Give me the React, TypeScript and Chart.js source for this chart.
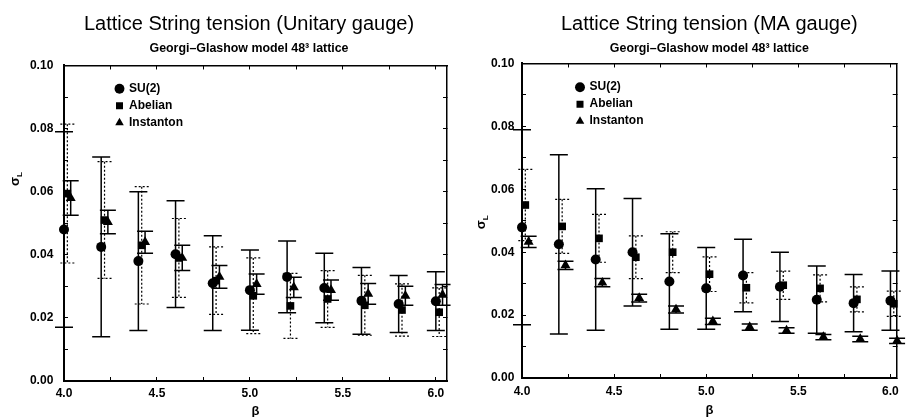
import React, { useEffect, useRef } from "react";
import { Chart, registerables } from "chart.js";

Chart.register(...registerables);

const FONT = '"Liberation Sans", Arial, Helvetica, sans-serif';

// ---------------- data ----------------
const betas = [4.0, 4.2, 4.4, 4.6, 4.8, 5.0, 5.2, 5.4, 5.6, 5.8, 6.0];
const abelianShift = 0.018;
const instantonShift = 0.036;

const seriesNames = ["SU(2)", "Abelian", "Instanton"];
const xTickLabels = ["4.0", "4.5", "5.0", "5.5", "6.0"];
const yTickLabels = ["0.00", "0.02", "0.04", "0.06", "0.08", "0.10"];

// Unitary gauge
const su2Unitary = [0.048, 0.0425, 0.038, 0.0402, 0.031, 0.0288, 0.033, 0.0295, 0.0254, 0.0244, 0.0253];
const su2UnitaryErr = [0.031, 0.0285, 0.022, 0.0169, 0.015, 0.0127, 0.0114, 0.011, 0.0106, 0.009, 0.0093];
const abelianUnitary = [0.0594, 0.051, 0.043, 0.039, 0.0318, 0.027, 0.0238, 0.026, 0.024, 0.0225, 0.0218];
const abelianUnitaryErr = [0.022, 0.0185, 0.0186, 0.0125, 0.0107, 0.012, 0.0103, 0.009, 0.0095, 0.0083, 0.0077];
const instantonUnitary = [0.058, 0.0504, 0.044, 0.039, 0.033, 0.0307, 0.0297, 0.0288, 0.0276, 0.027, 0.0273];
const instantonUnitaryErr = [0.0055, 0.0037, 0.0035, 0.004, 0.0036, 0.0032, 0.0032, 0.0032, 0.0033, 0.003, 0.0033];

// MA gauge
const su2MA = [0.0479, 0.0425, 0.0377, 0.04, 0.0307, 0.0285, 0.0326, 0.029, 0.0249, 0.0238, 0.0246];
const su2MAErr = [0.031, 0.0285, 0.0225, 0.0171, 0.0152, 0.013, 0.0115, 0.011, 0.0107, 0.0091, 0.0094];
const abelianMA = [0.055, 0.0482, 0.0444, 0.0384, 0.04, 0.033, 0.0287, 0.0295, 0.0285, 0.025, 0.0236];
const abelianMAErr = [0.0113, 0.0086, 0.0076, 0.0068, 0.0065, 0.0055, 0.0048, 0.0045, 0.0043, 0.004, 0.004];
const instantonMA = [0.0433, 0.0358, 0.0303, 0.0254, 0.0218, 0.018, 0.0162, 0.0151, 0.013, 0.0124, 0.0118];
const instantonMAErr = [0.0018, 0.0013, 0.0013, 0.0012, 0.0011, 0.001, 0.001, 0.0009, 0.0008, 0.0009, 0.0008];

// ---------------- plugins ----------------
const errorBarPlugin = {
  id: "errorBars",
  beforeDatasetsDraw(chart: any) {
    const ctx = chart.ctx;
    const xs = chart.scales.x;
    const ys = chart.scales.y;
    chart.data.datasets.forEach((ds: any) => {
      const errs: number[] = ds.errors;
      if (!errs) return;
      ctx.save();
      ctx.strokeStyle = "#000";
      ctx.lineWidth = ds.errorLineWidth;
      ctx.setLineDash(ds.errorDash || []);
      const hw = ds.capWidth / 2;
      ds.data.forEach((p: any, j: number) => {
        const x = xs.getPixelForValue(p.x);
        const y1 = ys.getPixelForValue(p.y + errs[j]);
        const y2 = ys.getPixelForValue(p.y - errs[j]);
        ctx.beginPath();
        ctx.moveTo(x, y1);
        ctx.lineTo(x, y2);
        ctx.moveTo(x - hw, y1);
        ctx.lineTo(x + hw, y1);
        ctx.moveTo(x - hw, y2);
        ctx.lineTo(x + hw, y2);
        ctx.stroke();
      });
      ctx.restore();
    });
  },
};

const sigmaTitlePlugin = {
  id: "sigmaTitle",
  afterDraw(chart: any, _args: any, opts: any) {
    const { ctx, chartArea } = chart;
    const y = chart.scales.y.getPixelForValue(opts.value);
    const x = chartArea.left - opts.offset;
    ctx.save();
    ctx.translate(x, y);
    ctx.rotate(-Math.PI / 2);
    ctx.fillStyle = "#000";
    ctx.textBaseline = "alphabetic";
    ctx.textAlign = "left";
    ctx.font = `bold 13px ${FONT}`;
    const w1 = ctx.measureText("σ").width;
    ctx.font = `bold 8px ${FONT}`;
    const w2 = ctx.measureText("L").width;
    const start = -(w1 + w2) / 2;
    ctx.font = `bold 13px ${FONT}`;
    ctx.fillText("σ", start, 4);
    ctx.font = `bold 8px ${FONT}`;
    ctx.fillText("L", start + w1, 7);
    ctx.restore();
  },
};

const legendShiftPlugin = {
  id: "legendShift",
  afterLayout(chart: any, _args: any, opts: any) {
    const l = chart.legend;
    const ca = chart.chartArea;
    if (l && ca) {
      l.left = ca.left + opts.dx;
      l.top = ca.top + opts.dy;
      l.right = ca.right;
      l.bottom = ca.bottom;
    }
  },
};

// ---------------- chart builder ----------------
type Panel = {
  title: string;
  titleFullSize: boolean;
  xMax: number;
  yAxisWidth: number;
  xAxisHeight: number;
  rightAxisWidth: number;
  subtitleBottom: number;
  legendDx: number;
  legendDy: number;
  sigmaOffset: number;
  sigmaValue: number;
  yTickPad: number;
  xTickPad: number;
  betaPadBottom: number;
  su2: number[];
  su2Err: number[];
  abelian: number[];
  abelianErr: number[];
  instanton: number[];
  instantonErr: number[];
};

function makeConfig(p: Panel): any {
  const tickFont = { family: FONT, size: 12, weight: "bold" };
  const xCallback = (v: any) => {
    const n = Number(v);
    const s = n.toFixed(1);
    return Math.abs(n * 2 - Math.round(n * 2)) < 1e-6 && xTickLabels.includes(s) ? s : "";
  };
  const yCallback = (v: any) => {
    const s = Number(v).toFixed(2);
    return yTickLabels.includes(s) ? s : "";
  };
  const commonGrid = { drawOnChartArea: false, drawTicks: true, tickLength: -4, color: "#000", lineWidth: 1 };
  return {
    type: "scatter",
    data: {
      datasets: [
        {
          label: seriesNames[0],
          data: betas.map((b, i) => ({ x: b, y: p.su2[i] })),
          errors: p.su2Err,
          capWidth: 18,
          errorLineWidth: 1.5,
          errorDash: [],
          pointStyle: "circle",
          pointRadius: 5,
          backgroundColor: "#000",
          borderColor: "#000",
          borderWidth: 0,
          clip: false,
        },
        {
          label: seriesNames[1],
          data: betas.map((b, i) => ({ x: b + abelianShift, y: p.abelian[i] })),
          errors: p.abelianErr,
          capWidth: 14,
          errorLineWidth: 1.2,
          errorDash: [2, 2],
          pointStyle: "rect",
          pointRadius: 5.4,
          backgroundColor: "#000",
          borderColor: "#000",
          borderWidth: 0,
          clip: false,
        },
        {
          label: seriesNames[2],
          data: betas.map((b, i) => ({ x: b + instantonShift, y: p.instanton[i] })),
          errors: p.instantonErr,
          capWidth: 16,
          errorLineWidth: 1.5,
          errorDash: [],
          pointStyle: "triangle",
          pointRadius: 5.8,
          backgroundColor: "#000",
          borderColor: "#000",
          borderWidth: 0,
          clip: false,
        },
      ],
    },
    options: {
      animation: false,
      responsive: false,
      maintainAspectRatio: false,
      events: [],
      layout: { padding: 0 },
      plugins: {
        title: {
          display: true,
          text: p.title,
          fullSize: p.titleFullSize,
          color: "#000",
          font: { family: FONT, size: 20, weight: "normal", lineHeight: 1.2 },
          padding: { top: 12.5, bottom: 0 },
        },
        subtitle: {
          display: true,
          text: "Georgi–Glashow model 48³ lattice",
          fullSize: p.titleFullSize,
          color: "#000",
          font: { family: FONT, size: 12.4, weight: "bold", lineHeight: 1.2 },
          padding: { top: 4.3, bottom: p.subtitleBottom },
        },
        legend: {
          display: true,
          position: "chartArea",
          align: "start",
          labels: {
            usePointStyle: true,
            boxWidth: 7,
            boxHeight: 7,
            padding: 5,
            color: "#000",
            font: { family: FONT, size: 12, weight: "bold" },
          },
        },
        tooltip: { enabled: false },
        sigmaTitle: { value: p.sigmaValue, offset: p.sigmaOffset },
        legendShift: { dx: p.legendDx, dy: p.legendDy },
      },
      scales: {
        x: {
          type: "linear",
          position: "bottom",
          min: 4.0,
          max: p.xMax,
          afterFit: (s: any) => {
            s.height = p.xAxisHeight;
          },
          ticks: {
            stepSize: 0.25,
            includeBounds: false,
            autoSkip: false,
            maxRotation: 0,
            minRotation: 0,
            padding: p.xTickPad,
            color: "#000",
            font: tickFont,
            callback: xCallback,
          },
          grid: commonGrid,
          border: { display: true, color: "#000", width: 2 },
          title: {
            display: true,
            text: "β",
            color: "#000",
            font: { family: FONT, size: 13, weight: "bold", lineHeight: 1 },
            padding: { top: 0, bottom: p.betaPadBottom },
          },
        },
        x2: {
          type: "linear",
          position: "top",
          min: 4.0,
          max: p.xMax,
          afterFit: (s: any) => {
            s.height = 0;
          },
          ticks: { stepSize: 0.25, includeBounds: false, display: false },
          grid: commonGrid,
          border: { display: true, color: "#000", width: 1.5 },
        },
        y: {
          type: "linear",
          position: "left",
          min: 0,
          max: 0.1,
          afterFit: (s: any) => {
            s.width = p.yAxisWidth;
          },
          ticks: {
            stepSize: 0.01,
            includeBounds: false,
            autoSkip: false,
            padding: p.yTickPad,
            color: "#000",
            font: tickFont,
            callback: yCallback,
          },
          grid: commonGrid,
          border: { display: true, color: "#000", width: 2 },
        },
        y2: {
          type: "linear",
          position: "right",
          min: 0,
          max: 0.1,
          afterFit: (s: any) => {
            s.width = p.rightAxisWidth;
          },
          ticks: { stepSize: 0.01, includeBounds: false, display: false },
          grid: commonGrid,
          border: { display: true, color: "#000", width: 1.5 },
        },
      },
    },
    plugins: [errorBarPlugin, sigmaTitlePlugin, legendShiftPlugin],
  };
}

const unitaryPanel: Panel = {
  title: "Lattice String tension (Unitary gauge)",
  titleFullSize: true,
  xMax: 6.06,
  yAxisWidth: 64,
  xAxisHeight: 36,
  rightAxisWidth: 51,
  subtitleBottom: 9.8,
  legendDx: 47,
  legendDy: 12.3,
  sigmaOffset: 49,
  sigmaValue: 0.064,
  yTickPad: 14.7,
  xTickPad: 9,
  betaPadBottom: -1.2,
  su2: su2Unitary,
  su2Err: su2UnitaryErr,
  abelian: abelianUnitary,
  abelianErr: abelianUnitaryErr,
  instanton: instantonUnitary,
  instantonErr: instantonUnitaryErr,
};

const maPanel: Panel = {
  title: "Lattice String tension (MA gauge)",
  titleFullSize: false,
  xMax: 6.034,
  yAxisWidth: 67,
  xAxisHeight: 39,
  rightAxisWidth: 2,
  subtitleBottom: 7.8,
  legendDx: 49.5,
  legendDy: 12.7,
  sigmaOffset: 41,
  sigmaValue: 0.0495,
  yTickPad: 11.7,
  xTickPad: 10,
  betaPadBottom: 0.5,
  su2: su2MA,
  su2Err: su2MAErr,
  abelian: abelianMA,
  abelianErr: abelianMAErr,
  instanton: instantonMA,
  instantonErr: instantonMAErr,
};

function ChartCanvas({ panel, left, width }: { panel: Panel; left: number; width: number }) {
  const ref = useRef<HTMLCanvasElement | null>(null);
  useEffect(() => {
    if (!ref.current) return;
    const chart = new Chart(ref.current, makeConfig(panel));
    return () => chart.destroy();
  }, [panel]);
  return (
    <canvas
      ref={ref}
      width={width}
      height={417}
      style={{ position: "absolute", left, top: 0, width, height: 417, display: "block" }}
    />
  );
}

export default function App() {
  return (
    <div
      style={{
        position: "absolute",
        left: 0,
        top: 0,
        width: 909,
        height: 417,
        overflow: "hidden",
        background: "#fff",
      }}
    >
      <ChartCanvas panel={unitaryPanel} left={0} width={498} />
      <ChartCanvas panel={maPanel} left={455} width={454} />
    </div>
  );
}
